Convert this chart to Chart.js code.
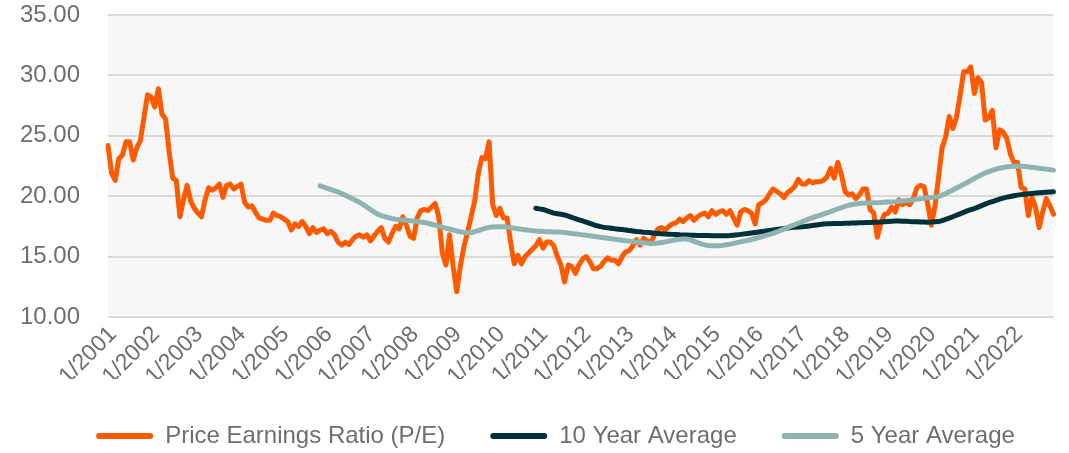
<!DOCTYPE html>
<html>
<head>
<meta charset="utf-8">
<script src="https://cdn.jsdelivr.net/npm/chart.js@4.4.1/dist/chart.umd.min.js"></script>
<style>
  html, body { margin: 0; padding: 0; background: #fff; }
</style>
</head>
<body>
<canvas id="myChart" width="1069" height="453"></canvas>
<script>
// monthly labels 1/2001 .. 12/2022
var months = [];
for (var yr = 2001; yr <= 2022; yr++) {
  for (var m = 1; m <= 12; m++) {
    months.push(m + '/' + yr);
  }
}

// P/E ratio, one value per month
var pe = [
  24.2, 21.9, 21.3, 23.1, 23.4, 24.5, 24.5, 23.0, 24.0, 24.6,
  26.5, 28.4, 28.2, 27.4, 28.9, 26.8, 26.4, 23.7, 21.5, 21.3,
  18.3, 19.7, 20.9, 19.6, 19.0, 18.6, 18.3, 19.7, 20.7, 20.5,
  20.7, 21.0, 19.9, 20.9, 21.0, 20.6, 20.8, 21.0, 19.5, 19.1,
  19.2, 18.7, 18.2, 18.1, 18.0, 18.0, 18.6, 18.4, 18.3, 18.1,
  17.9, 17.2, 17.7, 17.5, 17.9, 17.5, 16.9, 17.4, 17.0, 17.2,
  17.3, 16.9, 17.1, 16.8, 16.2, 15.95, 16.2, 16.0, 16.4, 16.7,
  16.8, 16.6, 16.8, 16.3, 16.7, 17.1, 17.4, 16.5, 16.2, 16.9,
  17.5, 17.3, 18.3, 17.6, 16.7, 16.5, 18.2, 18.8, 18.9, 18.8,
  19.1, 19.4, 18.3, 15.3, 14.3, 16.8, 14.2, 12.1, 14.2, 15.8,
  17.0, 18.3, 19.6, 21.9, 23.2, 23.1, 24.5, 19.3, 18.4, 19.0,
  18.2, 18.2, 16.2, 14.4, 15.1, 14.4, 15.0, 15.3, 15.6, 15.9,
  16.4, 15.7, 16.2, 16.2, 15.9, 15.0, 14.3, 12.9, 14.3, 14.2,
  13.6, 14.3, 14.8, 15.0, 14.6, 14.0, 14.0, 14.2, 14.6, 14.9,
  14.7, 14.7, 14.4, 15.0, 15.4, 15.5, 15.9, 16.4, 15.95, 16.5,
  16.3, 16.1, 16.8, 17.3, 17.4, 17.2, 17.5, 17.7, 17.8, 18.1,
  17.9, 18.2, 18.4, 18.0, 18.3, 18.5, 18.6, 18.3, 18.8, 18.5,
  18.7, 18.8, 18.5, 18.8, 18.2, 17.6, 18.7, 18.9, 18.8, 18.6,
  17.7, 19.3, 19.45, 19.7, 20.2, 20.6, 20.4, 20.2, 19.9, 20.3,
  20.5, 20.8, 21.4, 21.0, 21.0, 21.3, 21.1, 21.2, 21.2, 21.3,
  21.6, 22.3, 21.5, 22.8, 21.8, 20.4, 20.1, 20.2, 19.8, 20.1,
  20.6, 20.6, 18.9, 18.6, 16.6, 17.8, 18.5, 18.6, 19.1, 18.7,
  19.7, 19.3, 19.5, 19.3, 19.8, 20.7, 20.9, 20.8, 19.4, 17.6,
  19.1, 21.5, 24.0, 24.9, 26.6, 25.6, 26.5, 28.3, 30.3, 30.3,
  30.7, 28.5, 29.8, 29.4, 26.3, 26.5, 27.1, 24.0, 25.5, 25.3,
  24.8, 23.5, 22.8, 22.8, 20.7, 20.6, 18.4, 19.9, 19.1, 17.4,
  18.7, 19.8, 19.2, 18.5
];

// 10 year average, starts 12/2010
var avg10Start = '12/2010';
var avg10 = [
  19.0, 18.95, 18.9, 18.8, 18.7, 18.6, 18.55, 18.5, 18.45, 18.35,
  18.25, 18.15, 18.05, 17.95, 17.85, 17.75, 17.65, 17.55, 17.48, 17.42,
  17.38, 17.34, 17.3, 17.27, 17.24, 17.2, 17.16, 17.12, 17.08, 17.05,
  17.02, 17.0, 16.97, 16.94, 16.92, 16.9, 16.88, 16.86, 16.84, 16.82,
  16.8, 16.79, 16.78, 16.77, 16.76, 16.75, 16.75, 16.74, 16.74, 16.73,
  16.73, 16.73, 16.72, 16.72, 16.74, 16.77, 16.8, 16.84, 16.88, 16.92,
  16.96, 17.0, 17.04, 17.08, 17.12, 17.16, 17.2, 17.24, 17.28, 17.32,
  17.36, 17.4, 17.42, 17.45, 17.48, 17.5, 17.54, 17.58, 17.62, 17.66,
  17.7, 17.71, 17.72, 17.73, 17.74, 17.75, 17.76, 17.77, 17.78, 17.79,
  17.8, 17.81, 17.82, 17.83, 17.84, 17.85, 17.87, 17.89, 17.91, 17.93,
  17.95, 17.94, 17.93, 17.92, 17.9, 17.89, 17.88, 17.87, 17.86, 17.85,
  17.86, 17.88, 17.9, 17.98, 18.08, 18.18, 18.3, 18.42, 18.54, 18.66,
  18.78, 18.88, 18.98, 19.1, 19.22, 19.34, 19.46, 19.56, 19.66, 19.76,
  19.84, 19.92, 19.98, 20.04, 20.09, 20.13, 20.17, 20.2, 20.23, 20.26,
  20.28, 20.3, 20.32, 20.34, 20.36
];

// 5 year average, starts 12/2005
var avg5Start = '12/2005';
var avg5 = [
  20.85, 20.75, 20.65, 20.55, 20.45, 20.35, 20.22, 20.08, 19.94, 19.8,
  19.65, 19.48, 19.3, 19.1, 18.9, 18.7, 18.52, 18.4, 18.3, 18.22,
  18.15, 18.1, 18.06, 18.02, 18.0, 17.97, 17.94, 17.91, 17.87, 17.82,
  17.76, 17.68, 17.6, 17.52, 17.44, 17.36, 17.28, 17.2, 17.12, 17.05,
  17.0, 16.98, 17.0, 17.06, 17.15, 17.25, 17.35, 17.42, 17.46, 17.48,
  17.48, 17.47, 17.44, 17.4, 17.35, 17.3, 17.26, 17.22, 17.18, 17.15,
  17.12, 17.1, 17.08, 17.06, 17.05, 17.04, 17.03, 17.01, 16.99, 16.96,
  16.92, 16.88, 16.84, 16.8, 16.76, 16.72, 16.68, 16.64, 16.6, 16.56,
  16.52, 16.48, 16.44, 16.4, 16.36, 16.32, 16.28, 16.24, 16.2, 16.17,
  16.14, 16.12, 16.11, 16.11, 16.13, 16.16, 16.22, 16.28, 16.34, 16.4,
  16.44, 16.46, 16.45, 16.38, 16.28, 16.16, 16.05, 15.97, 15.92, 15.9,
  15.89, 15.9, 15.93, 15.98, 16.03, 16.09, 16.16, 16.22, 16.28, 16.35,
  16.42, 16.5, 16.58, 16.66, 16.75, 16.84, 16.93, 17.04, 17.16, 17.28,
  17.4, 17.52, 17.64, 17.76, 17.88, 18.0, 18.12, 18.22, 18.32, 18.42,
  18.52, 18.62, 18.72, 18.84, 18.96, 19.06, 19.16, 19.24, 19.31, 19.36,
  19.4, 19.42, 19.43, 19.44, 19.45, 19.46, 19.47, 19.49, 19.51, 19.53,
  19.55, 19.58, 19.61, 19.64, 19.67, 19.7, 19.74, 19.78, 19.82, 19.86,
  19.9, 19.93, 19.97, 20.08, 20.22, 20.37, 20.52, 20.67, 20.82, 20.98,
  21.14, 21.3, 21.46, 21.62, 21.78, 21.92, 22.04, 22.14, 22.24, 22.32,
  22.38, 22.43, 22.46, 22.48, 22.48, 22.47, 22.45, 22.42, 22.39, 22.36,
  22.32, 22.28, 22.24, 22.2, 22.16
];

var yTicks = [10, 15, 20, 25, 30, 35];

// put a series that starts later onto the full month axis
function pad(arr, startLabel) {
  var out = [];
  var start = months.indexOf(startLabel);
  for (var i = 0; i < months.length; i++) {
    out.push(i >= start && i - start < arr.length ? arr[i - start] : null);
  }
  return out;
}

var textGray = '#6e6e6e';
var fontFam = "'Liberation Sans', Arial, sans-serif";

// light grey fill behind the plot area
var plotBg = {
  id: 'plotBg',
  beforeDraw: function(chart) {
    var a = chart.chartArea;
    var ctx = chart.ctx;
    ctx.save();
    ctx.fillStyle = '#f7f7f7';
    ctx.fillRect(a.left, a.top, a.right - a.left, a.bottom - a.top);
    ctx.restore();
  }
};

// nudge legend so it sits where the original one does
var legendShift = {
  id: 'legendShift',
  afterLayout: function(chart) {
    chart.legend.left += 18;
    chart.legend.right += 18;
  }
};

var ctx = document.getElementById('myChart').getContext('2d');
var myChart = new Chart(ctx, {
  type: 'line',
  data: {
    labels: months,
    datasets: [
      {
        label: 'Price Earnings Ratio (P/E)',
        data: pe,
        borderColor: '#ff5a00',
        backgroundColor: '#ff5a00',
        order: 3
      },
      {
        label: '10 Year Average',
        data: pad(avg10, avg10Start),
        borderColor: '#00313a',
        backgroundColor: '#00313a',
        order: 2
      },
      {
        label: '5 Year Average',
        data: pad(avg5, avg5Start),
        borderColor: '#8fb3b1',
        backgroundColor: '#8fb3b1',
        order: 1
      }
    ]
  },
  options: {
    responsive: false,
    devicePixelRatio: 1,
    animation: false,
    layout: {
      autoPadding: false,
      padding: { left: 20, right: 14, top: 15, bottom: -5 }
    },
    elements: {
      point: { radius: 0 },
      line: {
        borderWidth: 5,
        tension: 0,
        borderJoinStyle: 'round',
        borderCapStyle: 'round'
      }
    },
    scales: {
      x: {
        grid: { display: false },
        border: { display: false },
        ticks: {
          autoSkip: false,
          maxRotation: 45,
          minRotation: 45,
          padding: -4,
          labelOffset: 5,
          color: textGray,
          font: { family: fontFam, size: 23 },
          callback: function(value) {
            var lab = this.getLabelForValue(value);
            return lab.indexOf('1/') === 0 ? lab : '';
          }
        },
        afterFit: function(scale) {
          scale.height = 62;
        }
      },
      y: {
        min: 10,
        max: 35,
        afterBuildTicks: function(scale) {
          scale.ticks = yTicks.map(function(v) { return { value: v }; });
        },
        afterFit: function(scale) {
          scale.width = 88;
        },
        grid: { color: '#d9d9d9', lineWidth: 2, drawTicks: false },
        border: { display: false },
        ticks: {
          padding: 0,
          crossAlign: 'far',
          color: textGray,
          font: { family: fontFam, size: 24 },
          callback: function(v) { return Number(v).toFixed(2); }
        }
      }
    },
    plugins: {
      tooltip: { enabled: false },
      legend: {
        display: true,
        position: 'bottom',
        labels: {
          boxWidth: 57,
          boxHeight: 6,
          padding: 45,
          useBorderRadius: true,
          borderRadius: 3,
          color: textGray,
          font: { family: fontFam, size: 24 },
          sort: function(a, b) { return a.datasetIndex - b.datasetIndex; },
          generateLabels: function(chart) {
            var items = Chart.defaults.plugins.legend.labels.generateLabels(chart);
            items.forEach(function(it) {
              it.lineWidth = 0;
              it.strokeStyle = it.fillStyle;
            });
            return items;
          }
        }
      }
    }
  },
  plugins: [plotBg, legendShift]
});
</script>
</body>
</html>
